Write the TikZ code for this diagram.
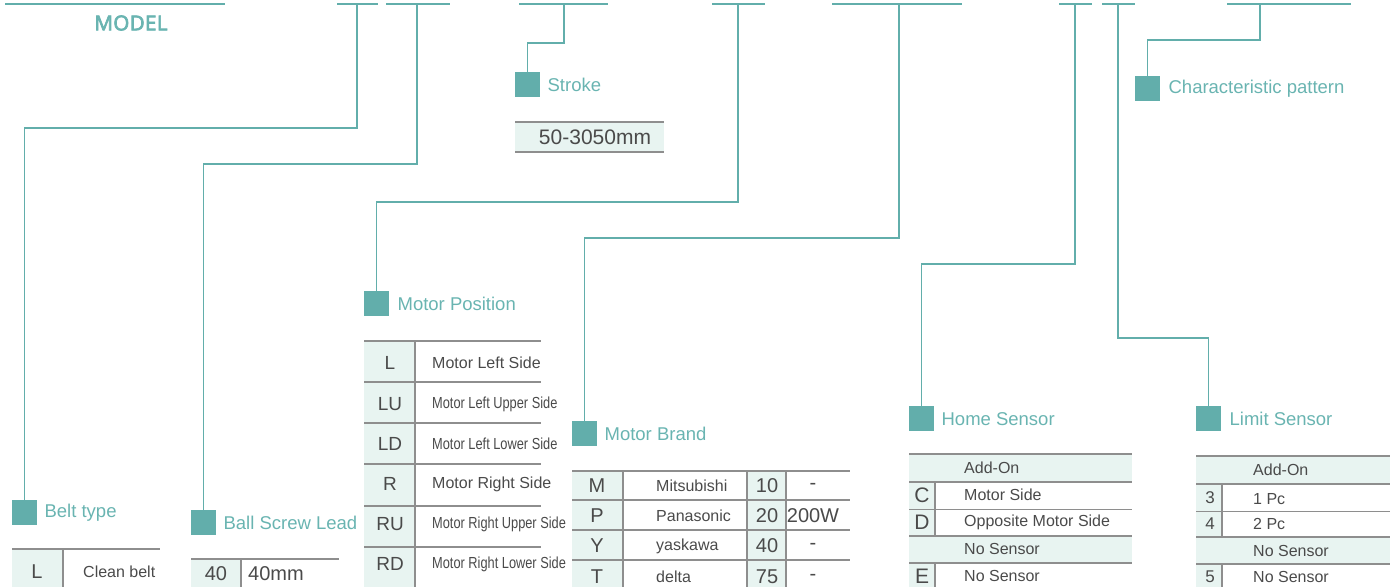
\documentclass[tikz,border=0pt]{standalone}
\usepackage{fontspec}
\usepackage{graphicx}
\setmainfont{Liberation Sans}
\newfontfamily\modelfont[LetterSpace=2,FakeBold=3.5]{Open Sans}
\usetikzlibrary{positioning}
\definecolor{leadteal}{HTML}{62AEAB}
\definecolor{titleteal}{HTML}{69B4B1}
\definecolor{cellfill}{HTML}{E8F4F1}
\definecolor{rulegray}{HTML}{8E8E8E}
\definecolor{txtgray}{HTML}{4A4A4A}
\tikzset{
  topbar/.style={draw=leadteal,line width=1.4pt},
  lead/.style={draw=leadteal,line width=1.4pt},
  marker/.style={fill=leadteal,minimum size=25pt,inner sep=0pt,anchor=north west},
  cattitle/.style={text=titleteal,font=\fontsize{18.5}{20}\selectfont,anchor=west,inner sep=0pt},
  rowrule/.style={draw=rulegray,line width=1.5pt},
  thinrule/.style={draw=rulegray,line width=0.9pt},
  colrule/.style={draw=rulegray,line width=1.2pt},
  codetxt/.style={text=txtgray,font=\fontsize{20}{22}\selectfont,inner sep=0pt},
  desctxt/.style={text=txtgray,font=\fontsize{16}{18}\selectfont,anchor=west,inner sep=0pt},
}

\begin{document}
\begin{tikzpicture}[x=1pt,y=-1pt]
  \useasboundingbox (0,0) rectangle (1397,587);
  % ---- code line along the top ----
  \draw[topbar] (5,4) -- (225,4);
  \node[text=titleteal,font=\modelfont\fontsize{20.5}{24}\selectfont] (model) at (131,23) {MODEL};
  \draw[topbar] (337,4) -- (378,4);   \coordinate (kBelt) at (357,4);
  \draw[topbar] (386,4) -- (450,4);   \coordinate (kLead) at (417,4);
  \draw[topbar] (519,4) -- (608,4);   \coordinate (kStroke) at (564,4);
  \draw[topbar] (712,4) -- (765,4);   \coordinate (kPos) at (738,4);
  \draw[topbar] (832,4) -- (962,4);   \coordinate (kBrand) at (899,4);
  \draw[topbar] (1059,4) -- (1092,4); \coordinate (kHome) at (1075,4);
  \draw[topbar] (1102,4) -- (1135,4); \coordinate (kLimit) at (1118,4);
  \draw[topbar] (1227,4) -- (1351,4); \coordinate (kChar) at (1260,4);

  % ---- markers and titles ----
  \node[marker] (mBelt) at (12,500) {};
  \node[cattitle,right=7pt of mBelt] (tBelt) {Belt type};
  \node[marker] (mLead) at (191,510) {};
  \node[cattitle,right=7pt of mLead] (tLead) {Ball Screw Lead};
  \node[marker] (mStroke) at (515,72) {};
  \node[cattitle,right=7pt of mStroke] (tStroke) {Stroke};
  \node[marker] (mPos) at (364,291) {};
  \node[cattitle,right=8pt of mPos] (tPos) {Motor Position};
  \node[marker] (mBrand) at (572,421) {};
  \node[cattitle,right=7pt of mBrand] (tBrand) {Motor Brand};
  \node[marker] (mHome) at (909,406) {};
  \node[cattitle,right=7pt of mHome] (tHome) {Home Sensor};
  \node[marker] (mLimit) at (1196,406) {};
  \node[cattitle,right=8pt of mLimit] (tLimit) {Limit Sensor};
  \node[marker] (mChar) at (1135,76) {};
  \node[cattitle,right=8pt of mChar] (tChar) {Characteristic pattern};

  % ---- leads from the code line down to each marker ----
  \draw[lead] (kBelt) -- ++(0,124) -| (mBelt.north);
  \draw[lead] (kLead) -- ++(0,160) -| (mLead.north);
  \draw[lead] (kStroke) -- ++(0,39) -| (mStroke.north);
  \draw[lead] (kPos) -- ++(0,198) -| (mPos.north);
  \draw[lead] (kBrand) -- ++(0,234) -| (mBrand.north);
  \draw[lead] (kHome) -- ++(0,260) -| (mHome.north);
  \draw[lead] (kLimit) -- ++(0,334) -| (mLimit.north);
  \draw[lead] (kChar) -- ++(0,36) -| (mChar.north);

  % ---- stroke ----
  \fill[cellfill] (515,122) rectangle (664,152);
  \draw[rowrule] (515,122) -- (664,122) (515,152) -- (664,152);
  \node[codetxt,font=\fontsize{21}{23}\selectfont] (vStroke) at (595,137) {50-3050mm};

  % ---- belt type ----
  \fill[cellfill] (12,549) rectangle (63,587);
  \draw[rowrule] (12,549) -- (160,549);
  \draw[colrule] (63,549) -- (63,587);
  \node[codetxt] (bL) at (37,572) {L};
  \node[desctxt] (bLd) at (83,572) {Clean belt};

  % ---- ball screw lead ----
  \fill[cellfill] (191,559) rectangle (241,587);
  \draw[rowrule] (191,559) -- (339,559);
  \draw[colrule] (241,559) -- (241,587);
  \node[codetxt] (s40) at (216,574) {40};
  \node[desctxt,font=\fontsize{20}{22}\selectfont] (s40d) at (248,574) {40mm};

  % ---- motor position ----
  \fill[cellfill] (364,341) rectangle (415,587);
  \foreach \y in {341,382,423,464,506,547}
    \draw[rowrule] (364,\y) -- (541,\y);
  \draw[colrule] (415,341) -- (415,587);
  \foreach \c/\d/\w/\y in {L/Motor Left Side/1/363, LU/Motor Left Upper Side/0.8/404,
      LD/Motor Left Lower Side/0.8/444, R/Motor Right Side/1/484,
      RU/Motor Right Upper Side/0.8/524, RD/Motor Right Lower Side/0.8/564}{
    \node[codetxt,font=\fontsize{19}{21}\selectfont] (p\c) at (390,\y) {\c};
    \node[desctxt] (p\c d) at (432,\y) {\scalebox{\w}[1]{\d}};
  }

  % ---- motor brand ----
  \fill[cellfill] (572,471) rectangle (623,587);
  \fill[cellfill] (747,471) rectangle (786,587);
  \foreach \y in {471,500,530,560}
    \draw[rowrule] (572,\y) -- (850,\y);
  \foreach \x in {623,747,786}
    \draw[colrule] (\x,471) -- (\x,587);
  \foreach \c/\d/\n/\v/\y in {M/Mitsubishi/10/-/486, P/Panasonic/20/200W/516,
      Y/yaskawa/40/-/546, T/delta/75/-/577}{
    \node[codetxt] (r\c) at (597,\y) {\c};
    \node[desctxt] (r\c d) at (656,\y) {\d};
    \node[codetxt] (r\c n) at (767,\y) {\n};
    \node[codetxt] (r\c v) at (813,\y) {\v};
  }

  % ---- home sensor ----
  \fill[cellfill] (909,454) rectangle (1132,482);
  \fill[cellfill] (909,536) rectangle (1132,563);
  \fill[cellfill] (909,482) rectangle (935,536);
  \fill[cellfill] (909,563) rectangle (935,587);
  \foreach \y in {454,482,536,563}
    \draw[rowrule,line width=2pt] (909,\y) -- (1132,\y);
  \draw[thinrule] (909,509) -- (1132,509);
  \draw[colrule] (935,482) -- (935,536) (935,563) -- (935,587);
  \node[desctxt] (hAdd) at (964,468) {Add-On};
  \node[codetxt,font=\fontsize{21}{23}\selectfont] (hC) at (922,495) {C};
  \node[desctxt] (hCd) at (964,495) {Motor Side};
  \node[codetxt,font=\fontsize{21}{23}\selectfont] (hD) at (922,522) {D};
  \node[desctxt] (hDd) at (964,522) {Opposite Motor Side};
  \node[desctxt] (hNo) at (964,549) {No Sensor};
  \node[codetxt,font=\fontsize{21}{23}\selectfont] (hE) at (922,576) {E};
  \node[desctxt] (hEd) at (964,576) {No Sensor};

  % ---- limit sensor ----
  \fill[cellfill] (1196,456) rectangle (1390,484);
  \fill[cellfill] (1196,537) rectangle (1390,564);
  \fill[cellfill] (1196,484) rectangle (1222,537);
  \fill[cellfill] (1196,564) rectangle (1222,587);
  \foreach \y in {456,484,537,564}
    \draw[rowrule,line width=2pt] (1196,\y) -- (1390,\y);
  \draw[thinrule] (1196,511) -- (1390,511);
  \draw[colrule] (1222,484) -- (1222,537) (1222,564) -- (1222,587);
  \node[desctxt] (lAdd) at (1253,470) {Add-On};
  \node[codetxt,font=\fontsize{17}{19}\selectfont] (l3) at (1210,498) {3};
  \node[desctxt] (l3d) at (1253,499) {1 Pc};
  \node[codetxt,font=\fontsize{17}{19}\selectfont] (l4) at (1210,524) {4};
  \node[desctxt] (l4d) at (1253,524) {2 Pc};
  \node[desctxt] (lNo) at (1253,551) {No Sensor};
  \node[codetxt,font=\fontsize{17}{19}\selectfont] (l5) at (1210,577) {5};
  \node[desctxt] (l5d) at (1253,577) {No Sensor};
\end{tikzpicture}
\end{document}
